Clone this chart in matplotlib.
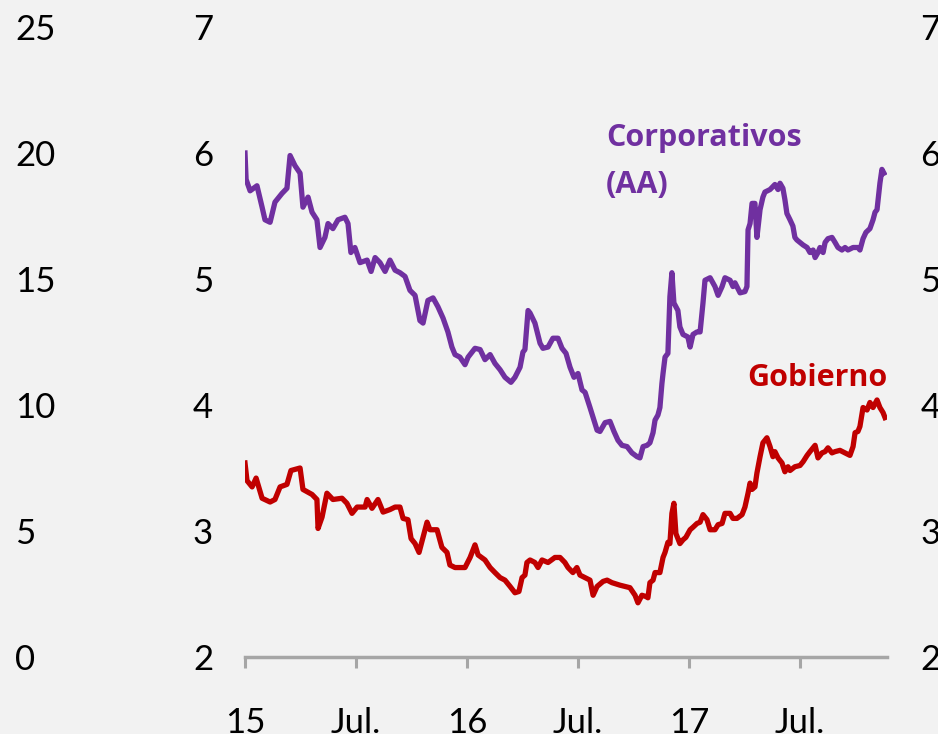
import numpy as np
import matplotlib
matplotlib.use("Agg")
import matplotlib.pyplot as plt

plt.rcParams['font.family'] = ['Lato', 'DejaVu Sans']

# Rendimientos (%), eje x en años decimales
t_corp = 2015 + np.array([
    0.000, 0.005, 0.023, 0.054, 0.077, 0.090, 0.113, 0.135, 0.167, 0.189,
    0.203, 0.225, 0.248, 0.261, 0.284, 0.302, 0.324, 0.338, 0.360, 0.374,
    0.396, 0.419, 0.450, 0.464, 0.477, 0.495, 0.518, 0.550, 0.568, 0.586,
    0.608, 0.631, 0.653, 0.676, 0.698, 0.721, 0.743, 0.766, 0.788, 0.802,
    0.824, 0.847, 0.869, 0.892, 0.914, 0.932, 0.946, 0.968, 0.991, 1.005,
    1.036, 1.059, 1.081, 1.104, 1.126, 1.149, 1.171, 1.198, 1.216, 1.239,
    1.252, 1.261, 1.275, 1.284, 1.306, 1.329, 1.342, 1.365, 1.387, 1.410,
    1.428, 1.446, 1.464, 1.482, 1.500, 1.518, 1.532, 1.554, 1.568, 1.586,
    1.599, 1.622, 1.644, 1.662, 1.680, 1.698, 1.721, 1.743, 1.766, 1.779,
    1.793, 1.811, 1.824, 1.838, 1.847, 1.860, 1.869, 1.878, 1.883, 1.892,
    1.905, 1.914, 1.923, 1.932, 1.950, 1.959, 1.973, 1.995, 2.005, 2.018,
    2.036, 2.050, 2.063, 2.072, 2.095, 2.117, 2.131, 2.149, 2.162, 2.185,
    2.198, 2.207, 2.230, 2.252, 2.261, 2.266, 2.275, 2.284, 2.297, 2.306,
    2.320, 2.333, 2.342, 2.365, 2.387, 2.401, 2.410, 2.423, 2.432, 2.441,
    2.455, 2.468, 2.477, 2.486, 2.500, 2.514, 2.532, 2.545, 2.559, 2.568,
    2.581, 2.590, 2.604, 2.613, 2.626, 2.644, 2.658, 2.671, 2.689, 2.703,
    2.716, 2.739, 2.761, 2.770, 2.784, 2.797, 2.815, 2.829, 2.838, 2.847,
    2.860, 2.869, 2.878,
])
corporativos = [
    6.00, 5.79, 5.70, 5.74, 5.57, 5.47, 5.45, 5.61, 5.68, 5.72,
    5.98, 5.90, 5.84, 5.57, 5.65, 5.53, 5.47, 5.25, 5.33, 5.44,
    5.40, 5.47, 5.49, 5.44, 5.21, 5.25, 5.13, 5.15, 5.06, 5.17,
    5.13, 5.06, 5.15, 5.07, 5.05, 5.02, 4.91, 4.87, 4.67, 4.65,
    4.83, 4.85, 4.78, 4.69, 4.58, 4.46, 4.40, 4.38, 4.32, 4.38,
    4.45, 4.44, 4.36, 4.40, 4.33, 4.28, 4.22, 4.18, 4.22, 4.30,
    4.42, 4.44, 4.75, 4.73, 4.65, 4.49, 4.45, 4.46, 4.53, 4.53,
    4.45, 4.41, 4.30, 4.22, 4.25, 4.12, 4.10, 3.98, 3.90, 3.80,
    3.79, 3.86, 3.87, 3.79, 3.72, 3.68, 3.67, 3.62, 3.59, 3.58,
    3.67, 3.68, 3.70, 3.78, 3.88, 3.92, 3.98, 4.17, 4.25, 4.38,
    4.41, 4.86, 5.05, 4.81, 4.75, 4.62, 4.56, 4.54, 4.46, 4.56,
    4.58, 4.58, 4.81, 4.99, 5.01, 4.94, 4.87, 4.94, 5.01, 4.99,
    4.94, 4.97, 4.89, 4.90, 4.94, 5.39, 5.44, 5.60, 5.60, 5.33,
    5.55, 5.65, 5.69, 5.71, 5.75, 5.71, 5.76, 5.72, 5.63, 5.52,
    5.47, 5.42, 5.33, 5.31, 5.29, 5.27, 5.25, 5.21, 5.23, 5.17,
    5.21, 5.25, 5.21, 5.29, 5.32, 5.33, 5.29, 5.25, 5.23, 5.25,
    5.23, 5.25, 5.25, 5.23, 5.32, 5.37, 5.40, 5.47, 5.53, 5.55,
    5.76, 5.87, 5.84,
]

t_gob = 2015 + np.array([
    0.000, 0.009, 0.032, 0.050, 0.077, 0.113, 0.135, 0.158, 0.189, 0.207,
    0.248, 0.261, 0.302, 0.324, 0.329, 0.347, 0.369, 0.396, 0.437, 0.459,
    0.482, 0.505, 0.541, 0.550, 0.572, 0.599, 0.622, 0.653, 0.676, 0.698,
    0.712, 0.734, 0.748, 0.766, 0.784, 0.802, 0.820, 0.833, 0.865, 0.887,
    0.910, 0.923, 0.946, 0.991, 1.014, 1.036, 1.050, 1.081, 1.104, 1.126,
    1.149, 1.171, 1.194, 1.216, 1.234, 1.248, 1.261, 1.270, 1.284, 1.306,
    1.320, 1.338, 1.365, 1.396, 1.419, 1.441, 1.455, 1.477, 1.495, 1.509,
    1.532, 1.554, 1.568, 1.586, 1.613, 1.631, 1.653, 1.689, 1.712, 1.734,
    1.757, 1.770, 1.788, 1.806, 1.815, 1.824, 1.838, 1.847, 1.869, 1.883,
    1.892, 1.905, 1.914, 1.923, 1.932, 1.941, 1.959, 1.973, 1.986, 2.005,
    2.018, 2.036, 2.050, 2.063, 2.081, 2.095, 2.117, 2.131, 2.149, 2.162,
    2.185, 2.198, 2.216, 2.239, 2.252, 2.266, 2.275, 2.284, 2.297, 2.306,
    2.320, 2.333, 2.351, 2.365, 2.378, 2.387, 2.401, 2.419, 2.432, 2.446,
    2.455, 2.477, 2.500, 2.514, 2.532, 2.545, 2.559, 2.568, 2.581, 2.599,
    2.613, 2.626, 2.644, 2.658, 2.680, 2.703, 2.725, 2.739, 2.748, 2.761,
    2.770, 2.784, 2.802, 2.815, 2.829, 2.847, 2.860, 2.874, 2.883,
])
gobierno = [
    3.54, 3.40, 3.35, 3.42, 3.26, 3.23, 3.25, 3.35, 3.37, 3.48,
    3.50, 3.33, 3.29, 3.25, 3.02, 3.11, 3.30, 3.25, 3.26, 3.22,
    3.14, 3.19, 3.19, 3.25, 3.18, 3.25, 3.15, 3.17, 3.19, 3.19,
    3.10, 3.09, 2.94, 2.90, 2.83, 2.95, 3.07, 3.01, 3.01, 2.87,
    2.83, 2.73, 2.71, 2.71, 2.79, 2.89, 2.81, 2.77, 2.71, 2.67,
    2.63, 2.61, 2.56, 2.51, 2.52, 2.63, 2.65, 2.75, 2.77, 2.75,
    2.71, 2.77, 2.75, 2.79, 2.79, 2.75, 2.71, 2.67, 2.71, 2.65,
    2.63, 2.61, 2.49, 2.56, 2.60, 2.61, 2.59, 2.57, 2.56, 2.55,
    2.49, 2.43, 2.49, 2.48, 2.47, 2.59, 2.61, 2.67, 2.67, 2.79,
    2.83, 2.91, 2.90, 3.14, 3.22, 2.98, 2.90, 2.93, 2.95, 3.01,
    3.03, 3.06, 3.07, 3.13, 3.09, 3.01, 3.01, 3.05, 3.06, 3.14,
    3.14, 3.10, 3.10, 3.13, 3.19, 3.30, 3.38, 3.33, 3.35, 3.46,
    3.59, 3.70, 3.74, 3.67, 3.59, 3.63, 3.58, 3.54, 3.47, 3.51,
    3.48, 3.51, 3.52, 3.55, 3.60, 3.63, 3.66, 3.68, 3.58, 3.62,
    3.63, 3.66, 3.62, 3.63, 3.64, 3.62, 3.60, 3.67, 3.78, 3.79,
    3.83, 3.98, 3.96, 4.02, 3.98, 4.04, 3.98, 3.94, 3.90,
]

x_ticks = [2015.0, 2015.5, 2016.0, 2016.5, 2017.0, 2017.5]
x_labels = ['15', 'Jul.', '16', 'Jul.', '17', 'Jul.']
y_ticks = [2, 3, 4, 5, 6, 7]
y_outer_ticks = [0, 5, 10, 15, 20, 25]

bg = '#f2f2f2'
purple = '#7030a0'
red = '#c00000'
grey = '#a6a6a6'

fig = plt.figure(figsize=(9.38, 7.34), dpi=100, facecolor=bg)
ax = fig.add_axes([245 / 938, 1 - 657 / 734, 642 / 938, 630 / 734])
ax.set_facecolor(bg)

ax.plot(t_corp, corporativos, color=purple, lw=3.8, solid_joinstyle='round', zorder=3)
ax.plot(t_gob, gobierno, color=red, lw=3.8, solid_joinstyle='round', zorder=3)

ax.set_xlim(2015.0, 2015 + 642 / 222)
ax.set_ylim(2, 7)
for s in ['top', 'right', 'left']:
    ax.spines[s].set_visible(False)
ax.spines['bottom'].set_color(grey)
ax.spines['bottom'].set_linewidth(2.5)

ax.set_xticks(x_ticks)
ax.set_xticklabels(x_labels)
ax.tick_params(axis='x', direction='out', length=8, width=2.2, color=grey,
               pad=28, labelsize=25, labelcolor='black')
ax.set_yticks(y_ticks)
ax.tick_params(axis='y', length=0, pad=23, labelsize=25)

# eje derecho (mismo rango)
axr = ax.twinx()
axr.set_ylim(2, 7)
axr.set_yticks(y_ticks)
axr.tick_params(axis='y', length=0, pad=24, labelsize=25)
for s in axr.spines.values():
    s.set_visible(False)

# eje exterior izquierdo 0-25
axo = ax.twinx()
axo.set_ylim(0, 25)
axo.set_yticks(y_outer_ticks)
axo.spines['right'].set_position(('axes', (15 - 245) / 642))
axo.tick_params(axis='y', length=0, pad=0, labelsize=25)
for s in axo.spines.values():
    s.set_visible(False)

lbl_font = ['Open Sans', 'DejaVu Sans']
fig.text(606 / 938, 1 - 123 / 734, 'Corporativos\n(AA)', color=purple,
         fontsize=22, fontweight='bold', family=lbl_font,
         ha='left', va='top', linespacing=1.72)
fig.text(887 / 938, 1 - 386 / 734, 'Gobierno', color=red,
         fontsize=22, fontweight='bold', family=lbl_font,
         ha='right', va='baseline')

fig.savefig('out.png', dpi=100, facecolor=bg)
